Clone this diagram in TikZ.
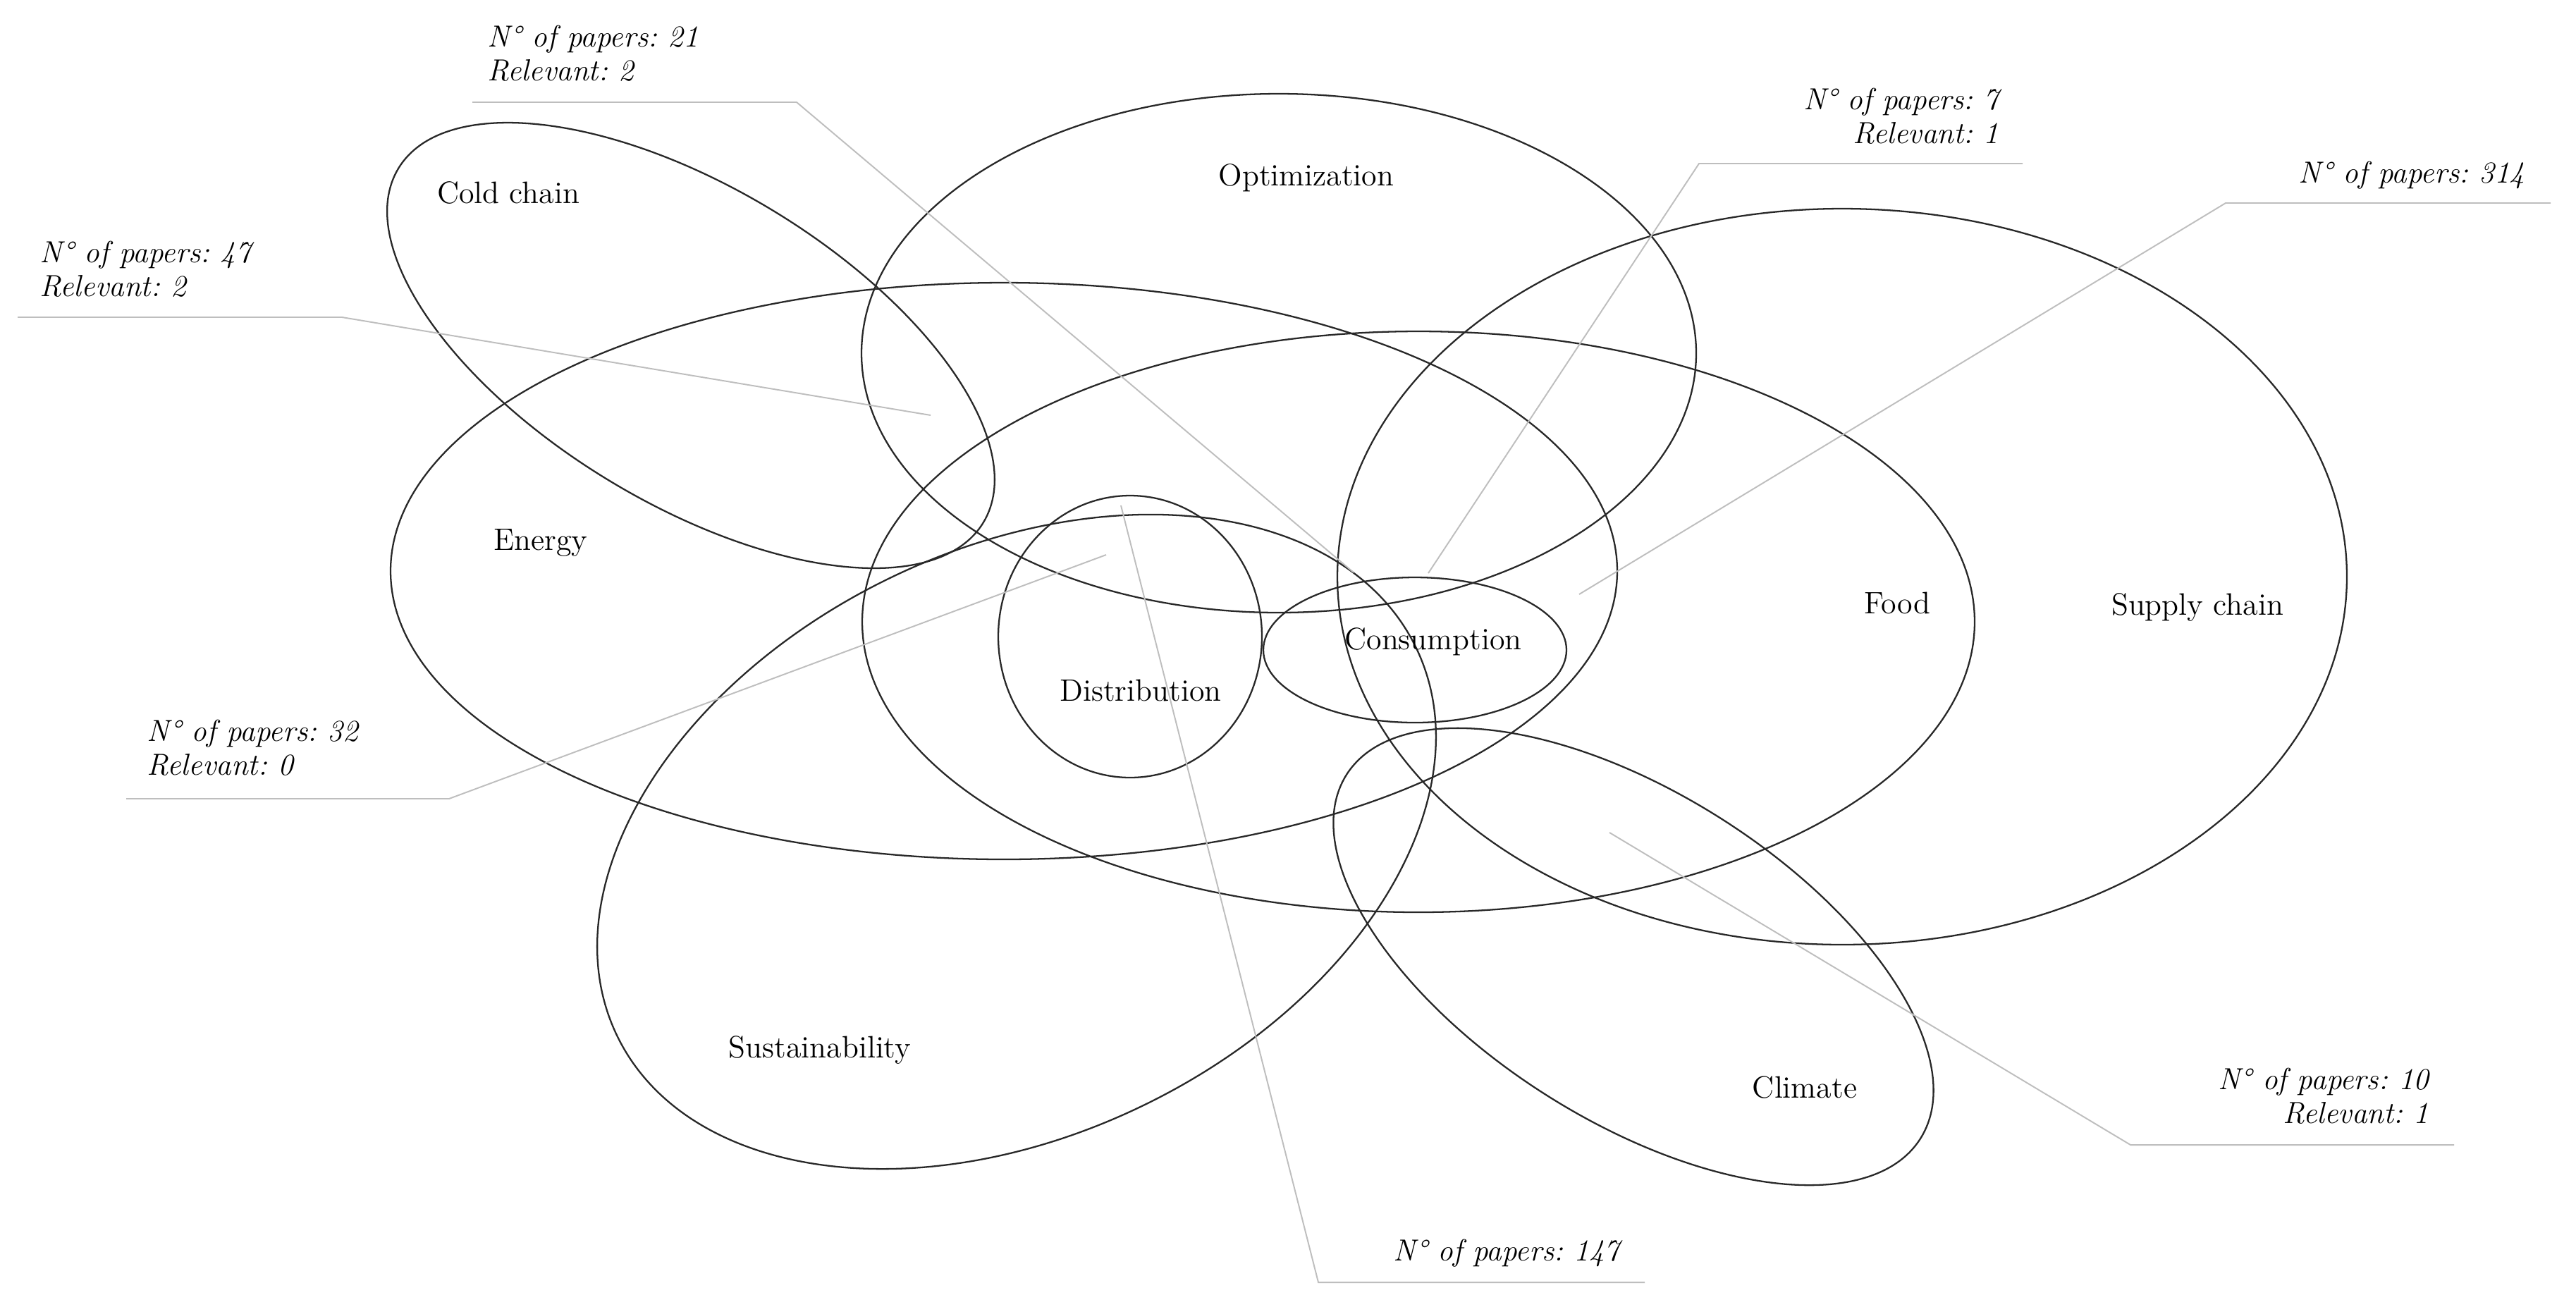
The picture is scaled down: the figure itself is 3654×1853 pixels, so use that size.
\documentclass[tikz,border=0pt]{standalone}
\usetikzlibrary{shapes.geometric}
\definecolor{leadergray}{RGB}{190,190,190}
\definecolor{ringcol}{RGB}{40,40,40}
\begin{document}
\begin{tikzpicture}[x=0.1mm, y=-0.1mm,
  venn/.style n args={2}{draw=ringcol, line width=0.65pt, ellipse, inner sep=0pt, outer sep=0pt,
     minimum width=#1*0.2mm, minimum height=#2*0.2mm},
  lbl/.style={inner sep=0pt, anchor=base, font=\fontsize{12.5}{14}\selectfont},
  cnt/.style={inner sep=0pt, text depth=0pt, font=\fontsize{12.3}{13.6}\selectfont\itshape\frenchspacing},
  leaderline/.style={draw=leadergray, line width=0.55pt}]
\useasboundingbox (0,0) rectangle (3654,1853);
\fill[white] (0,0) rectangle (3654,1853);

% ellipses
\node[venn={485}{224}, rotate=-31.2] (ecold) at (980,490) {};
\node[venn={592}{368}] (eopt) at (1814,501) {};
\node[venn={870}{409}] (eenergy) at (1424,810) {};
\node[venn={789}{412}] (efood) at (2012,882) {};
\node[venn={716}{522}] (esupply) at (2613,818) {};
\node[venn={215}{103}] (econs) at (2007,922) {};
\node[venn={187}{200}] (edist) at (1603,903) {};
\node[venn={630}{415}, rotate=26] (esust) at (1442,1194) {};
\node[venn={482}{232}, rotate=-32.4] (eclim) at (2317,1357) {};

% set labels
\node[lbl] (tcold) at (721,288) {Cold chain};
\node[lbl] (topt) at (1853,263) {Optimization};
\node[lbl] (tenergy) at (767,780) {Energy};
\node[lbl] (tfood) at (2691,870) {Food};
\node[lbl] (tsupply) at (3117,872) {Supply chain};
\node[lbl] (tcons) at (2033,921) {Consumption};
\node[lbl] (tdist) at (1618,994) {Distribution};
\node[lbl] (tsust) at (1163,1500) {Sustainability};
\node[lbl] (tclim) at (2560,1557) {Climate};

% leader coordinates
\coordinate (a21) at (670,145);  \coordinate (b21) at (1130,145);  \coordinate (c21) at (1920,812);
\coordinate (a47) at (25,450);   \coordinate (b47) at (485,450);   \coordinate (c47) at (1320,589);
\coordinate (a7) at (2869,232);  \coordinate (b7) at (2410,232);   \coordinate (c7) at (2026,813);
\coordinate (a314) at (3618,288);\coordinate (b314) at (3157,288); \coordinate (c314) at (2240,843);
\coordinate (a32) at (179,1133); \coordinate (b32) at (637,1133);  \coordinate (c32) at (1569,787);
\coordinate (a147) at (2333,1819);\coordinate (b147) at (1870,1819);\coordinate (c147) at (1590,717);
\coordinate (a10) at (3481,1624);\coordinate (b10) at (3022,1624); \coordinate (c10) at (2283,1181);

\draw[leaderline] (a21) -- (b21) -- (c21);
\draw[leaderline] (a47) -- (b47) -- (c47);
\draw[leaderline] (a7) -- (b7) -- (c7);
\draw[leaderline] (a314) -- (b314) -- (c314);
\draw[leaderline] (a32) -- (b32) -- (c32);
\draw[leaderline] (a147) -- (b147) -- (c147);
\draw[leaderline] (a10) -- (b10) -- (c10);

% count labels
\node[cnt, align=left, anchor=south west] (n21) at (691,115) {N\textdegree{} of papers: 21\\Relevant: 2};
\node[cnt, align=left, anchor=south west] (n47) at (56,421) {N\textdegree{} of papers: 47\\Relevant: 2};
\node[cnt, align=right, anchor=south east] (n7) at (2836,204) {N\textdegree{} of papers: 7\\Relevant: 1};
\node[cnt, align=right, anchor=south east] (n314) at (3582,260) {N\textdegree{} of papers: 314};
\node[cnt, align=left, anchor=south west] (n32) at (208,1100) {N\textdegree{} of papers: 32\\Relevant: 0};
\node[cnt, align=right, anchor=south east] (n147) at (2298,1789) {N\textdegree{} of papers: 147};
\node[cnt, align=right, anchor=south east] (n10) at (3446,1594) {N\textdegree{} of papers: 10\\Relevant: 1};
\end{tikzpicture}
\end{document}
